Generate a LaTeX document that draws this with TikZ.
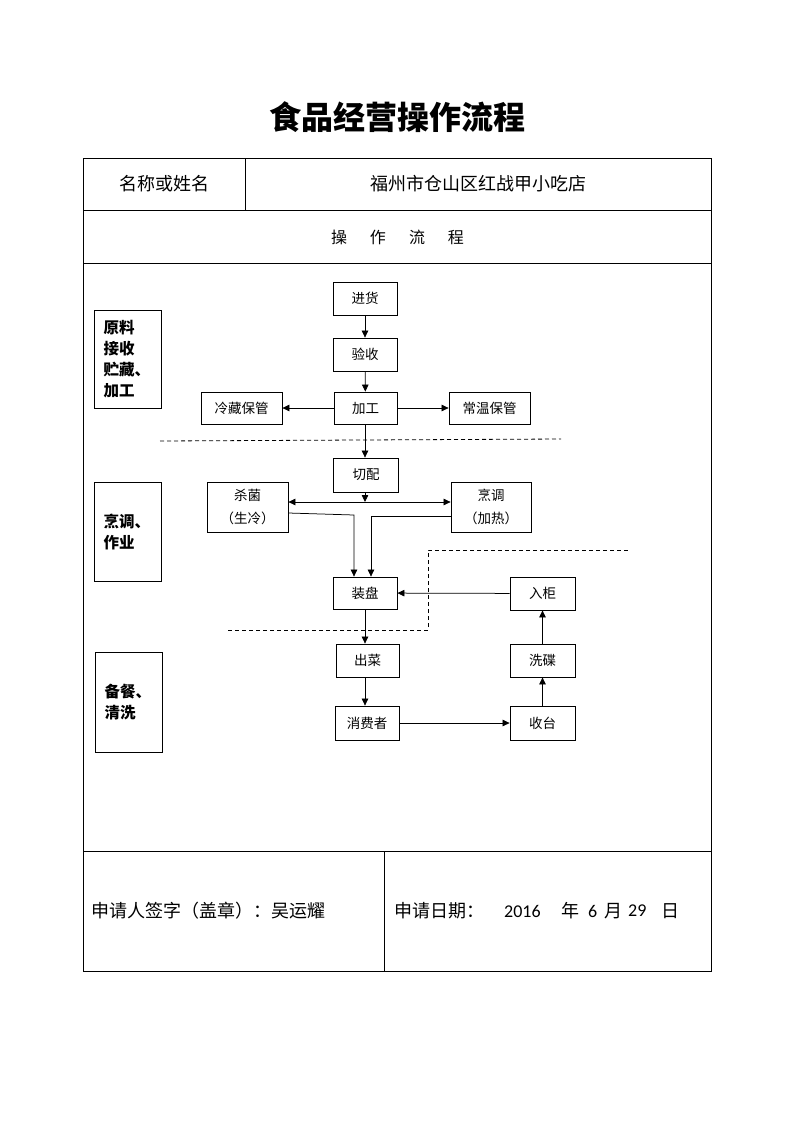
\documentclass[tikz,border=0pt]{standalone}
\usepackage{fontspec}
\setmainfont{Noto Sans CJK SC}
\newfontfamily\latinf{Carlito}
\usetikzlibrary{arrows.meta}
\begin{document}
\begin{tikzpicture}[x=1pt,y=-1pt,
  every node/.style={inner sep=0pt},
  grid/.style={line width=0.8pt},
  box/.style={draw, line width=0.8pt, font=\fontsize{13.5}{23}\selectfont, align=center},
  lab/.style={draw, line width=0.8pt, font=\fontsize{15.5}{21}\selectfont\bfseries, align=left,
              text width=48pt, inner xsep=9.5pt, minimum height=98pt},
  cell/.style={font=\fontsize{18}{22}\selectfont},
  arr/.style={line width=0.75pt, -{Triangle[length=7pt,width=6.5pt]}},
  arrboth/.style={line width=0.75pt, {Triangle[length=7pt,width=6.5pt]}-{Triangle[length=7pt,width=6.5pt]}},
  sep/.style={line width=0.8pt, dash pattern=on 4pt off 3pt}]
\useasboundingbox (0,0) rectangle (793,1122);

% title
\node[font=\fontsize{32}{36}\selectfont\bfseries] (title) at (397,117) {食品经营操作流程};

% table
\draw[grid] (83,158) rectangle (711,971);
\draw[grid] (83,210) -- (711,210);
\draw[grid] (83,263) -- (711,263);
\draw[grid] (83,851) -- (711,851);
\draw[grid] (245,158) -- (245,210);
\draw[grid] (384,851) -- (384,971);

\node[cell] (namel) at (164,184) {名称或姓名};
\node[cell] (namev) at (478,184) {福州市仓山区红战甲小吃店};
\node[font=\fontsize{16}{20}\selectfont] (flow) at (397.5,237) {操\hspace{23pt}作\hspace{23pt}流\hspace{23pt}程};

\node[cell, anchor=west] (sig) at (91,911) {申请人签字（盖章）：吴运耀};
\node[cell, anchor=west] (datel) at (394,911) {申请日期：};
\node[cell, anchor=west] (yy) at (504,911) {\latinf 2016};
\node[cell, anchor=west] (ny) at (561,911) {年};
\node[cell, anchor=west] (mm) at (588,911) {\latinf 6};
\node[cell, anchor=west] (ym) at (604,911) {月};
\node[cell, anchor=west] (dd) at (628,911) {\latinf 29};
\node[cell, anchor=west] (rd) at (661,911) {日};

% stage labels
\node[lab] (l1) at (127.5,359) {原料\\接收\\贮藏、\\加工};
\node[lab, minimum height=99pt] (l2) at (127.5,531.5) {烹调、\\作业};
\node[lab, minimum height=100pt] (l3) at (128.5,702) {备餐、\\清洗};

% flow boxes
\node[box, minimum width=64pt, minimum height=33pt] (jh) at (365,298.5) {进货};
\node[box, minimum width=64pt, minimum height=33pt] (ys) at (365,354.5) {验收};
\node[box, minimum width=63pt, minimum height=32pt] (jg) at (365.5,408) {加工};
\node[box, minimum width=81pt, minimum height=32pt] (lc) at (241.5,408) {冷藏保管};
\node[box, minimum width=81pt, minimum height=32pt] (cw) at (489.5,408) {常温保管};
\node[box, minimum width=65pt, minimum height=34pt] (qp) at (366,475) {切配};
\node[box, minimum width=81pt, minimum height=50pt] (sj) at (247.5,507) {杀菌\\（生冷）};
\node[box, minimum width=80pt, minimum height=50pt] (pt) at (491,507) {烹调\\（加热）};
\node[box, minimum width=64pt, minimum height=32pt] (zp) at (365,593) {装盘};
\node[box, minimum width=65pt, minimum height=33pt] (rg) at (542.5,593.5) {入柜};
\node[box, minimum width=63pt, minimum height=33pt] (cc) at (367.5,660.5) {出菜};
\node[box, minimum width=65pt, minimum height=33pt] (xd) at (542.5,660.5) {洗碟};
\node[box, minimum width=64pt, minimum height=34pt] (xf) at (367,723) {消费者};
\node[box, minimum width=65pt, minimum height=34pt] (st) at (542.5,723) {收台};

% helper coordinates
\coordinate (jn) at (365,502);
\coordinate (b1) at (354,515);
\coordinate (b2) at (371,516);

% connectors
\draw[arr] (jh) -- (ys);
\draw[arr] (ys) -- (jg);
\draw[arr] (jg) -- (lc);
\draw[arr] (jg) -- (cw);
\draw[arr] (jg.south -| jn) -- (qp.north -| jn);
\draw[arr] (qp.south -| jn) -- (jn);
\draw[arrboth] (sj.east |- jn) -- (pt.west |- jn);
\draw[arr] (sj.east |- 0,513) -- (b1) -- (b1 |- zp.north);
\draw[arr] (pt.west |- b2) -- (b2) -- (b2 |- zp.north);
\draw[arr] (rg) -- (zp);
\draw[arr] (zp.south) -- (zp.south |- cc.north);
\draw[arr] (zp.south |- cc.south) -- (zp.south |- xf.north);
\draw[arr] (xf) -- (st);
\draw[arr] (st) -- (xd);
\draw[arr] (xd) -- (rg);

% stage separators
\draw[sep] (160,441) -- (561,439);
\draw[sep] (228,630) -- (428,630) -- (428,550) -- (628,550);
\end{tikzpicture}
\end{document}
